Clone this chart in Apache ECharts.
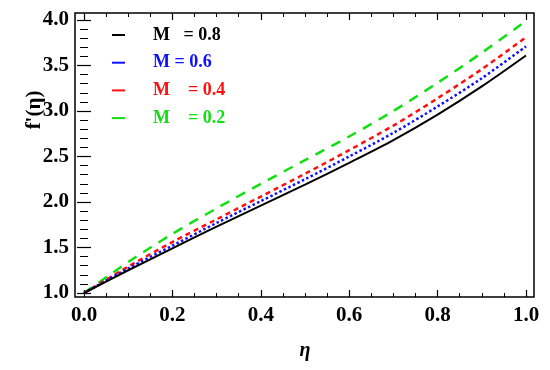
<!DOCTYPE html>
<html>
<head>
<meta charset="utf-8">
<script src="https://cdn.jsdelivr.net/npm/echarts@6/dist/echarts.min.js"></script>
<style>html,body{margin:0;padding:0;background:#fff}#c{width:550px;height:370px}</style>
</head>
<body>
<div id="c"></div>
<script>
var etaValues = [0, 0.1, 0.2, 0.3, 0.4, 0.5, 0.6, 0.7, 0.8, 0.9, 1.0];
var seriesNames = ['M   = 0.8', 'M = 0.6', 'M    = 0.4', 'M    = 0.2'];
var fM08 = [1.0, 1.25, 1.49, 1.73, 1.96, 2.19, 2.43, 2.68, 2.96, 3.27, 3.61];
var fM06 = [1.0, 1.27, 1.52, 1.77, 2.01, 2.25, 2.50, 2.76, 3.05, 3.36, 3.71];
var fM04 = [1.0, 1.29, 1.56, 1.81, 2.06, 2.31, 2.57, 2.84, 3.14, 3.46, 3.81];
var fM02 = [1.0, 1.34, 1.65, 1.93, 2.20, 2.46, 2.72, 3.00, 3.31, 3.64, 3.99];
var xTickLabels = ['0.0', '0.2', '0.4', '0.6', '0.8', '1.0'];
var yTickLabels = ['1.0', '1.5', '2.0', '2.5', '3.0', '3.5', '4.0'];

var colors = ['#000000', '#1010ff', '#ff1010', '#10e010'];
var dashes = ['solid', [2.5, 2.5], [5, 4], [10, 8]];
var widths = [2, 2.5, 2.5, 2.5];
var allData = [fM08, fM06, fM04, fM02];

function pairs(v) { return etaValues.map(function (e, i) { return [e, v[i]]; }); }

var serif = '"Liberation Serif", "DejaVu Serif", serif';
var chart = echarts.init(document.getElementById('c'), null, { renderer: 'canvas' });

var tickCommon = { show: true, inside: true, length: 7, lineStyle: { color: '#000', width: 1.2 } };
var minorCommon = function (n) { return { show: true, splitNumber: n, length: 4, lineStyle: { color: '#000', width: 1 } }; };
var labelStyle = { color: '#000', fontFamily: serif, fontWeight: 'bold', fontSize: 21 };

var series = allData.map(function (d, i) {
  return {
    name: seriesNames[i], type: 'line', xAxisIndex: 0, yAxisIndex: 0,
    data: pairs(d), showSymbol: false, symbol: 'none', smooth: 0.3,
    lineStyle: { color: colors[i], width: widths[i], type: dashes[i] },
    itemStyle: { color: colors[i] }, z: 10 - i
  };
});

chart.setOption({
  animation: false,
  backgroundColor: '#fff',
  grid: [
    { left: 84, right: 24, top: 20, bottom: 77, show: false },
    { left: 75, right: 16, top: 13, bottom: 73, show: true, borderColor: '#000', borderWidth: 1.5, backgroundColor: 'transparent' }
  ],
  xAxis: [
    { gridIndex: 0, type: 'value', min: 0, max: 1, interval: 0.2, position: 'bottom', offset: 4,
      axisLine: { show: false }, axisTick: tickCommon, minorTick: minorCommon(4),
      splitLine: { show: false }, minorSplitLine: { show: false },
      axisLabel: Object.assign({ margin: 8, formatter: function (v) { return xTickLabels[Math.round(v / 0.2)]; } }, labelStyle),
      name: 'η', nameLocation: 'middle', nameGap: 44,
      nameTextStyle: { color: '#000', fontFamily: serif, fontStyle: 'italic', fontWeight: 'bold', fontSize: 20 } },
    { gridIndex: 0, type: 'value', min: 0, max: 1, interval: 0.2, position: 'top', offset: 7,
      axisLine: { show: false }, axisTick: tickCommon, minorTick: minorCommon(4),
      splitLine: { show: false }, axisLabel: { show: false } },
    { gridIndex: 1, type: 'value', min: 0, max: 1, show: false }
  ],
  yAxis: [
    { gridIndex: 0, type: 'value', min: 1, max: 4, interval: 0.5, position: 'left', offset: 9,
      axisLine: { show: false }, axisTick: tickCommon, minorTick: minorCommon(5),
      splitLine: { show: false }, minorSplitLine: { show: false },
      axisLabel: Object.assign({ margin: 6, formatter: function (v) { return yTickLabels[Math.round((v - 1) / 0.5)]; } }, labelStyle) },
    { gridIndex: 0, type: 'value', min: 1, max: 4, interval: 0.5, position: 'right', offset: 8,
      axisLine: { show: false }, axisTick: tickCommon, minorTick: minorCommon(5),
      splitLine: { show: false }, axisLabel: { show: false } },
    { gridIndex: 1, type: 'value', min: 0, max: 1, show: false }
  ],
  legend: {
    show: true, orient: 'vertical', left: 107, top: 21, itemWidth: 13, itemHeight: 2, itemGap: 9.7,
    selectedMode: false,
    data: seriesNames.map(function (n, i) {
      return { name: n, icon: 'rect', itemStyle: { color: colors[i] }, textStyle: { color: colors[i] } };
    }),
    formatter: function (n) { return '{s| }' + n; },
    textStyle: { fontFamily: serif, fontWeight: 'bold', fontSize: 18, lineHeight: 18,
      rich: { s: { width: 23, lineHeight: 18 } } }
  },
  graphic: [
    { type: 'text', x: 35, y: 110, rotation: Math.PI / 2,
      style: { text: "f'(η)", fill: '#000', font: 'bold 21px ' + serif, textAlign: 'center', textVerticalAlign: 'middle' } }
  ],
  series: series
});
</script>
</body>
</html>
